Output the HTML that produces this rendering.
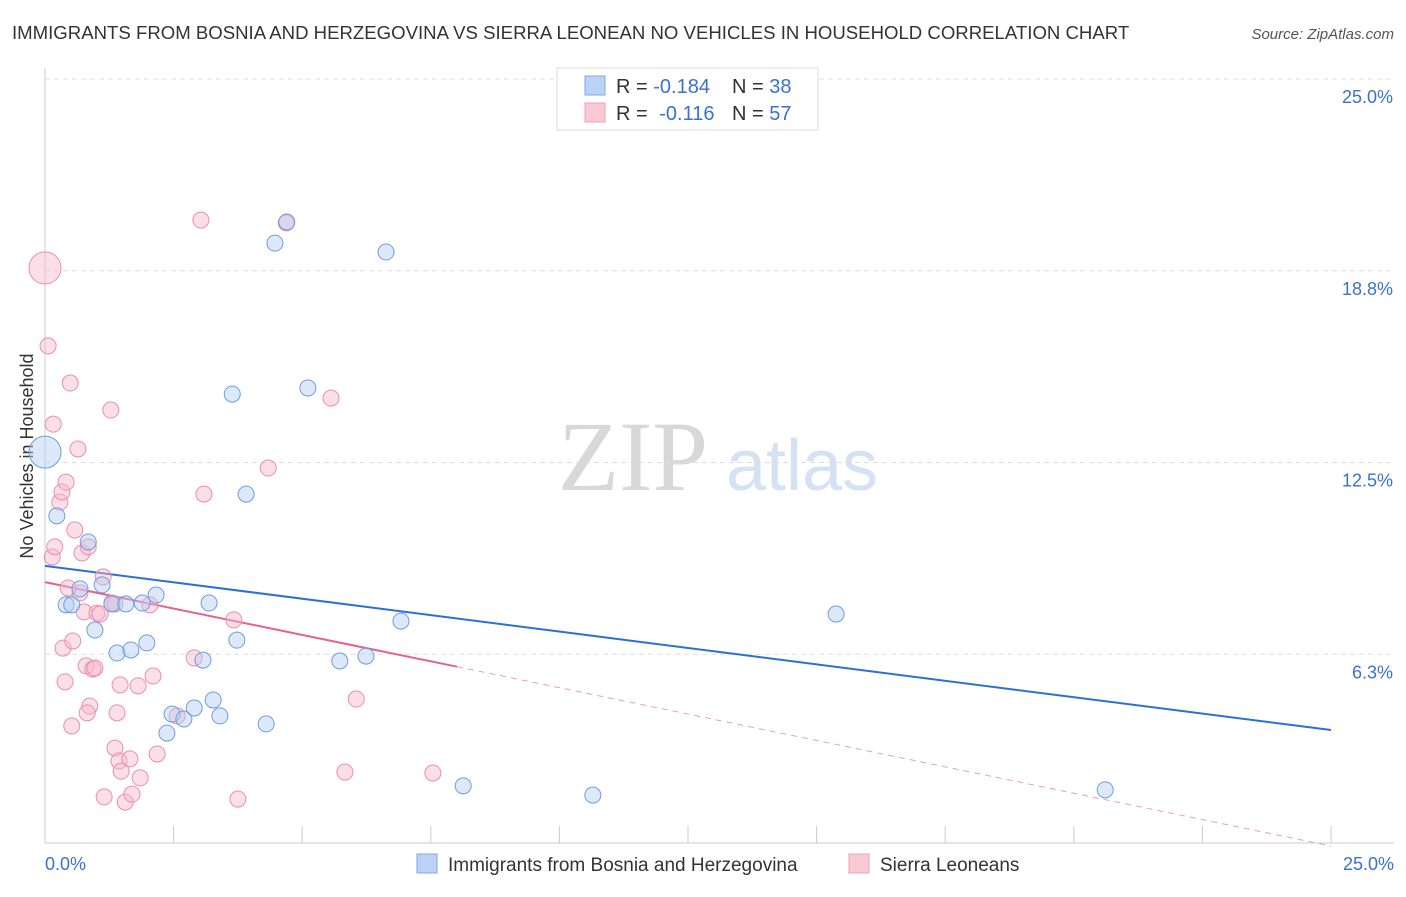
<!DOCTYPE html>
<html><head><meta charset="utf-8"><style>
body{margin:0;background:#fff;font-family:"Liberation Sans",sans-serif;}
svg text{font-family:"Liberation Sans",sans-serif;}
</style></head><body>
<svg id="chart" width="1406" height="892" xmlns="http://www.w3.org/2000/svg">
<text x="12" y="39" font-size="18.6" fill="#333">IMMIGRANTS FROM BOSNIA AND HERZEGOVINA VS SIERRA LEONEAN NO VEHICLES IN HOUSEHOLD CORRELATION CHART</text>
<text x="1394" y="39" font-size="15" fill="#555" font-style="italic" text-anchor="end">Source: ZipAtlas.com</text>
<text transform="translate(33,456) rotate(-90)" font-size="18" fill="#333" text-anchor="middle">No Vehicles in Household</text>
<g><text x="633" y="490" font-size="100" fill="#d8d8d8" style="font-family:'Liberation Serif',serif" text-anchor="middle">ZIP</text><text x="802" y="490" font-size="72" fill="#d4e2f4" text-anchor="middle">atlas</text></g>
<g id="grid"></g><g id="axes"></g><g id="trends"></g><g id="pts"></g>
<g>
<rect x="557" y="68" width="261" height="62" fill="#fff" stroke="#ddd"/>
<rect x="585" y="76" width="20" height="19" fill="#b9d2f5" stroke="#7fa9e3"/>
<rect x="585" y="103" width="20" height="19" fill="#fbc8d6" stroke="#eea0b6"/>
<text x="616" y="93" font-size="20" fill="#333">R = <tspan fill="#3a72d0">-0.184</tspan><tspan x="732">N = </tspan><tspan fill="#3a72d0">38</tspan></text>
<text x="616" y="120" font-size="20" fill="#333">R = <tspan fill="#3a72d0" dx="6">-0.116</tspan><tspan x="732">N = </tspan><tspan fill="#3a72d0">57</tspan></text>
</g>
<g>
<rect x="417" y="854" width="20" height="19" fill="#b9d2f5" stroke="#7fa9e3"/>
<text x="448" y="871" font-size="19" fill="#333">Immigrants from Bosnia and Herzegovina</text>
<rect x="849" y="854" width="20" height="19" fill="#fbc8d6" stroke="#eea0b6"/>
<text x="880" y="871" font-size="19" fill="#333">Sierra Leoneans</text>
</g>
</svg>
<script>
const yTicks=[6.25,12.5,18.75,25];
const yTickLabels=["6.3%","12.5%","18.8%","25.0%"];
const xTickLabels=["0.0%","25.0%"];
const blueX=[0,0.23,0.41,0.52,0.68,0.84,0.97,1.11,1.30,1.40,1.57,1.67,1.89,1.98,2.16,2.37,2.47,2.70,2.90,3.19,3.07,3.27,3.40,3.64,3.73,3.91,4.30,4.47,4.70,5.11,5.73,6.24,6.63,6.92,8.13,10.65,15.38,20.61];
const blueY=[12.84,10.76,7.86,7.86,8.38,9.91,7.04,8.51,7.89,6.29,7.89,6.39,7.92,6.62,8.18,3.68,4.30,4.14,4.50,7.92,6.06,4.76,4.24,14.73,6.71,11.47,3.98,19.65,20.34,14.93,6.03,6.19,19.36,7.33,1.96,1.66,7.56,1.83];
const pinkX=[0,0.06,0.16,0.14,0.19,0.29,0.33,0.41,0.49,0.58,0.64,0.68,0.72,0.76,0.84,0.45,0.35,0.54,0.80,0.93,0.97,1.01,1.07,1.13,1.28,1.30,1.36,1.40,1.44,1.48,1.56,1.65,1.69,1.85,1.81,2.04,2.10,2.18,1.46,0.87,0.82,0.52,0.39,1.15,2.57,2.90,3.03,3.09,3.67,3.75,4.34,4.69,5.56,5.83,6.05,7.54,1.36];
const pinkY=[18.84,16.30,13.75,9.42,9.75,11.21,11.54,11.86,15.09,10.30,12.94,8.25,9.55,7.63,9.75,8.41,6.45,6.68,5.87,5.77,5.80,7.59,7.56,8.77,14.21,7.92,3.19,4.34,2.77,2.44,1.43,2.84,1.69,2.22,5.22,7.86,5.54,3.00,5.25,4.56,4.34,3.91,5.35,1.60,4.24,6.13,20.40,11.47,7.37,1.53,12.32,20.31,14.60,2.41,4.79,2.38,7.89];
const blueTrend=[9.13,3.78];
const pinkTrend=[8.60,0.0];
const pinkSolidEnd=8.01;
const NS="http://www.w3.org/2000/svg";
const xs=v=>45+v*51.44, ys=v=>846-v*30.68;
function mk(t,a,p){const e=document.createElementNS(NS,t);for(const k in a)e.setAttribute(k,a[k]);p.appendChild(e);return e;}
const grid=document.getElementById('grid'),axes=document.getElementById('axes'),tr=document.getElementById('trends'),pts=document.getElementById('pts');
yTicks.forEach((t,i)=>{
 const l=mk('line',{x1:45,x2:1394,y1:ys(t),y2:ys(t),stroke:'#ddd','stroke-dasharray':'5,4'},grid);
 
 
 const tx=mk('text',{x:1393,y:ys(t)+24,'font-size':18,fill:'#3a72d0','text-anchor':'end'},axes);
 tx.textContent=yTickLabels[i];
 
 
});
let a=mk('line',{x1:45,x2:45,y1:68,y2:843,stroke:'#ccc'},axes);


a=mk('line',{x1:45,x2:1394,y1:843,y2:843,stroke:'#ccc'},axes);


for(let i=0;i<=10;i++){const tk=mk('line',{x1:xs(i*2.5),x2:xs(i*2.5),y1:826,y2:843,stroke:'#ccc'},axes);
 
 }
[[0,'start',45],[25,'end',1394]].forEach((d,i)=>{const tx=mk('text',{x:d[2],y:870,'font-size':18,fill:'#3a72d0','text-anchor':d[1]},axes);tx.textContent=xTickLabels[i];
 
 });
let t=mk('line',{x1:xs(0),y1:ys(blueTrend[0]),x2:xs(25),y2:ys(blueTrend[1]),stroke:'#2d6fd6','stroke-width':2},tr);


const pAt=x=>pinkTrend[0]+(pinkTrend[1]-pinkTrend[0])*x/25;
t=mk('line',{x1:xs(0),y1:ys(pinkTrend[0]),x2:xs(pinkSolidEnd),y2:ys(pAt(pinkSolidEnd)),stroke:'#e8608c','stroke-width':2},tr);


t=mk('line',{x1:xs(pinkSolidEnd),y1:ys(pAt(pinkSolidEnd)),x2:xs(25),y2:ys(pinkTrend[1]),stroke:'#e8a0b8','stroke-width':1,'stroke-dasharray':'6,5'},tr);


function dots(X,Y,fill,stroke,name){X.forEach((x,i)=>{const r=(i===0)?16:8;
 const c=mk('circle',{cx:xs(x),cy:ys(Y[i]),r:r,fill:fill,'fill-opacity':0.45,stroke:stroke,'stroke-width':1},pts);
 
 });}
dots(pinkX,pinkY,'#f7b9cc','#e98fac','sierra-leonean-point');
dots(blueX,blueY,'#b3cdf2','#6b9fe0','bosnia-point');
</script>
</body></html>
